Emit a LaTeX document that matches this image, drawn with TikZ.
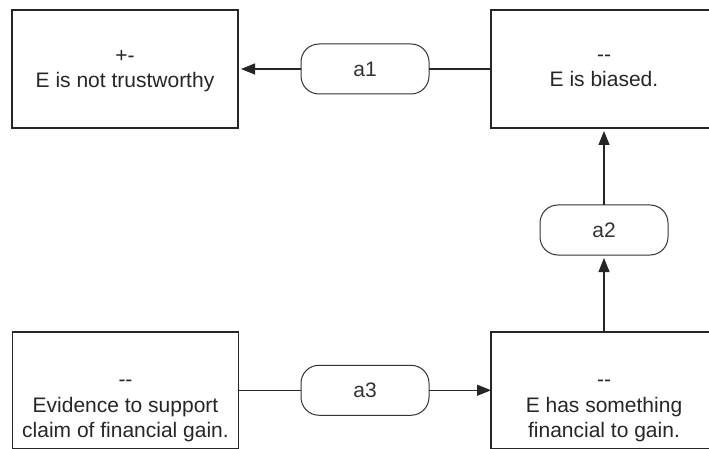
\documentclass[tikz,border=0pt]{standalone}
\usepackage{fontspec}
\setmainfont{Liberation Sans}
\usetikzlibrary{arrows.meta}
\newcommand{\dashpair}{-{}-}
\begin{document}
\begin{tikzpicture}[x=1pt,y=-1pt,
  claim/.style={draw=black!85, line width=1.2pt, minimum width=226pt,
    minimum height=118pt, inner sep=0pt, outer sep=0pt},
  lowclaim/.style={claim, minimum height=116.5pt},
  claimtext/.style={align=center, inner sep=0pt,
    font=\fontsize{21}{25.5}\selectfont, text=black!85},
  arg/.style={draw=black!80, line width=1pt, rounded corners=18pt,
    minimum width=128pt, minimum height=50pt, inner sep=0pt, outer sep=0pt,
    font=\fontsize{21}{25}\selectfont, text=black!80},
  link/.style={draw=black!85, line width=1.2pt},
  support/.style={link, -{Triangle[length=14pt,width=11pt]}, shorten >=3pt}]
\useasboundingbox (0,0) rectangle (709,449);
\clip (0,0) rectangle (709,449);

% claims
\node[claim] (tl) at (125,69) {};
\node[claim] (tr) at (604,69) {};
\node[lowclaim] (bl) at (125.5,390.25) {};
\node[lowclaim] (br) at (604,390.25) {};

\node[claimtext] (tlt) at ([yshift=-2pt]tl.center) {+-\\E is not trustworthy};
\node[claimtext] (trt) at ([yshift=-2pt]tr.center) {\dashpair\\E is biased.};
\node[claimtext] (blt) at ([yshift=-20.75pt]bl.center) {\dashpair\\Evidence to support\\claim of financial gain.};
\node[claimtext] (brt) at ([yshift=-20.75pt]br.center) {\dashpair\\E has something\\financial to gain.};

% arguments
\node[arg] (a1) at (365,69) {a1};
\node[arg] (a2) at (604,230) {a2};
\node[arg] (a3) at (365,390.25) {a3};

% connectors
\draw[link] (tr) -- (a1);
\draw[support] (a1) -- (tl);
\draw[support] (br) -- (a2);
\draw[support] (a2) -- (tr);
\draw[link] (bl) -- (a3);
\draw[support, shorten >=0pt] (a3) -- (br);
\end{tikzpicture}
\end{document}
